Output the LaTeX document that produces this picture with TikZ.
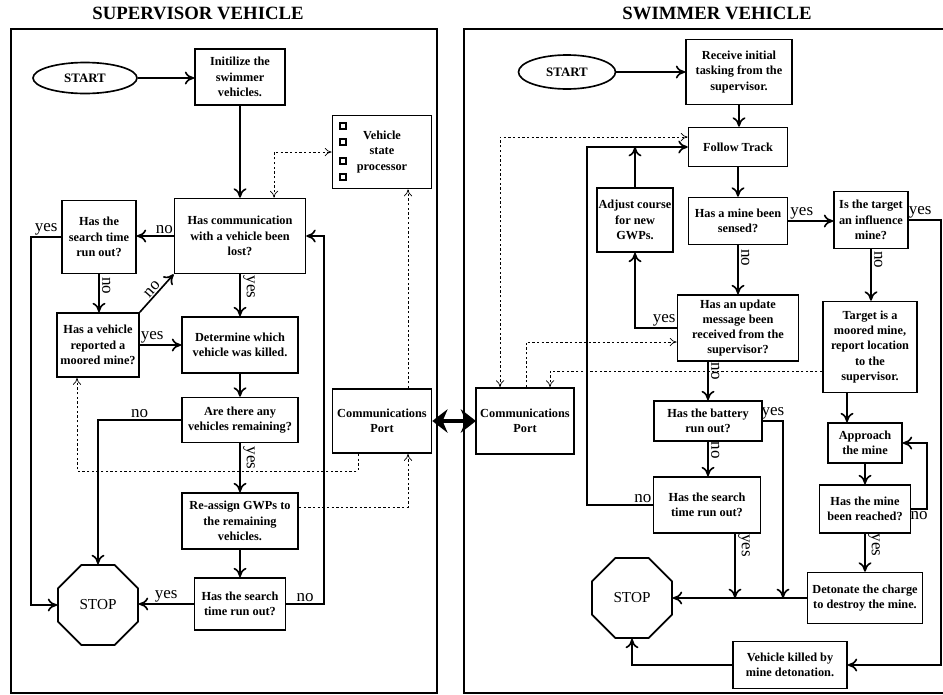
\documentclass[tikz,border=0pt]{standalone}
\usepackage{fontspec}
\setmainfont{Liberation Serif}
\usetikzlibrary{arrows.meta,shapes.geometric}

\tikzset{
  box/.style={draw, line width=1.4pt, align=center, inner sep=1pt,
    font=\bfseries\fontsize{10.5}{13}\selectfont},
  term/.style={draw, ellipse, line width=1.4pt, inner sep=0pt,
    font=\bfseries\fontsize{11}{13}\selectfont},
  stopsign/.style={draw, regular polygon, regular polygon sides=8, line width=1.4pt,
    minimum size=2.6cm, inner sep=0pt, font=\fontsize{13}{13}\selectfont},
  flow/.style={line width=1.4pt, >={Computer Modern Rightarrow[length=8pt,width=11pt]}, ->},
  msg/.style={line width=0.6pt, dash pattern=on 2pt off 2pt,
    >={Computer Modern Rightarrow[length=6pt,width=7pt]}, ->},
  link/.style={line width=3pt, {Stealth[length=13pt,width=20pt]}-{Stealth[length=13pt,width=20pt]}},
  lbl/.style={font=\fontsize{14.5}{14}\selectfont, inner sep=1pt},
  rot/.style={lbl, rotate=-90, anchor=south, inner sep=2pt},
  ttl/.style={font=\bfseries\fontsize{16}{18}\selectfont},
}

\begin{document}
\begin{tikzpicture}[x=0.03cm, y=-0.03cm]
\useasboundingbox (0,0) rectangle (943,695);

%frames
\node[ttl] (tsup) at (198,13) {SUPERVISOR VEHICLE};
\node[ttl] (tswim) at (717,13) {SWIMMER VEHICLE};
\draw[line width=1.4pt] (11,29) rectangle (437,693);
\draw[line width=1.4pt] (464,29) rectangle (948,693);

%supervisor
\node[term, minimum width=3.12cm, minimum height=0.93cm] (sstart) at (85,78) {START};
\node[box, minimum width=2.7cm, minimum height=1.68cm] (sinit) at (240,77) {Initilize the\\swimmer\\vehicles.};
\node[box, minimum width=2.97cm, minimum height=2.19cm] (vsp) at (382,152) {Vehicle\\state\\processor};
\foreach \yy in {126,142,161,177}
  \draw[line width=1pt] (340,\yy-3) rectangle (346,\yy+3);
\node[box, minimum width=3.93cm, minimum height=2.25cm] (scomm) at (240,236) {Has communication\\with a vehicle been\\lost?};
\node[box, minimum width=2.22cm, minimum height=2.19cm] (ssrch) at (99,237) {Has the\\search time\\run out?};
\node[box, minimum width=2.46cm, minimum height=1.92cm] (smoored) at (98,345) {Has a vehicle\\reported a\\moored mine?};
\node[box, minimum width=3.48cm, minimum height=1.68cm] (sdet) at (240,345) {Determine which\\vehicle was killed.};
\node[box, minimum width=3.48cm, minimum height=1.35cm] (sare) at (240,420) {Are there any\\vehicles remaining?};
\node[box, minimum width=2.97cm, minimum height=1.92cm] (scport) at (382,421) {Communications\\Port};
\node[box, minimum width=3.48cm, minimum height=1.68cm] (sreas) at (240,521) {Re-assign GWPs to\\the remaining\\vehicles.};
\node[box, minimum width=2.73cm, minimum height=1.56cm] (ssrch2) at (240,604) {Has the search\\time run out?};
\node[stopsign] (sstop) at (98,605) {STOP};

\coordinate (sleft) at (31,0);
\coordinate (sright) at (324,0);
\coordinate (pa) at (274,153);
\coordinate (pb) at (408,507);
\coordinate (pc) at (358,471);
\coordinate (pd) at (77,471);

\draw[flow] (sstart.east) -- (sstart.east -| sinit.west);
\draw[flow] (sinit) -- (scomm);
\draw[flow] (scomm.west) -- node[lbl, above, pos=0.25]{no} (scomm.west -| ssrch.east);
\draw[flow] (ssrch.west) -- node[lbl, above]{yes} (ssrch.west -| sleft) |- (sstop.west);
\draw[flow] (ssrch.south) -- node[rot, pos=0.3]{no} (ssrch.south |- smoored.north);
\draw[flow] (smoored.north east) -- node[lbl, sloped, above, pos=0.5]{no} (scomm.south west);
\draw[flow] (smoored.east) -- node[lbl, above, pos=0.3]{yes} (smoored.east -| sdet.west);
\draw[flow] (scomm) -- node[rot, pos=0.3]{yes} (sdet);
\draw[flow] (sdet) -- (sare);
\draw[flow] (sare.west) -| node[lbl, above, pos=0.25]{no} (sstop.north);
\draw[flow] (sare) -- node[rot, pos=0.3]{yes} (sreas);
\draw[flow] (sreas) -- (ssrch2);
\draw[flow] (ssrch2.west) -- node[lbl, above]{yes} (ssrch2.west -| sstop.east);
\draw[flow] (ssrch2.east) -- node[lbl, above]{no} (ssrch2.east -| sright) |- (scomm.east);

%messages
\draw[msg, <->] (scomm.north -| pa) |- (vsp.west);
\draw[msg] (scport.north -| pb) -- (vsp.south -| pb);
\draw[msg] (sreas.east |- pb) -| (scport.south -| pb);
\draw[msg] (scport.south -| pc) -- (pc) -- (pd) -- (smoored.south -| pd);

\draw[link] (scport.east) -- (scport.east -| 476,0);

%swimmer
\node[term, minimum width=2.91cm, minimum height=1.02cm] (wstart) at (567,72) {START};
\node[box, minimum width=3.18cm, minimum height=1.95cm] (wrecv) at (739,72) {Receive initial\\tasking from the\\supervisor.};
\node[box, minimum width=2.97cm, minimum height=1.17cm] (wfollow) at (738,147) {Follow Track};
\node[box, minimum width=2.28cm, minimum height=1.92cm] (wadjust) at (635,220) {Adjust course\\for new\\GWPs.};
\node[box, minimum width=2.97cm, minimum height=1.41cm] (wsensed) at (738,221) {Has a mine been\\sensed?};
\node[box, minimum width=2.22cm, minimum height=1.71cm] (winfl) at (871,220) {Is the target\\an influence\\mine?};
\node[box, minimum width=3.63cm, minimum height=1.98cm] (wupdate) at (738,328) {Has an update\\message been\\received from the\\supervisor?};
\node[box, minimum width=2.82cm, minimum height=2.73cm] (wmoored) at (870,347) {Target is a\\moored mine,\\report location\\to the\\supervisor.};
\node[box, minimum width=2.94cm, minimum height=1.98cm] (wcport) at (525,421) {Communications\\Port};
\node[box, minimum width=3.24cm, minimum height=1.2cm] (wbattery) at (708,421) {Has the battery\\run out?};
\node[box, minimum width=2.22cm, minimum height=1.2cm] (wapproach) at (865,443) {Approach\\the mine};
\node[box, minimum width=3.21cm, minimum height=1.68cm] (wsearch) at (707,505) {Has the search\\time run out?};
\node[box, minimum width=2.73cm, minimum height=1.44cm] (wreached) at (865,509) {Has the mine\\been reached?};
\node[stopsign] (wstop) at (632,598) {STOP};
\node[box, minimum width=3.45cm, minimum height=1.53cm] (wdet) at (865,598) {Detonate the charge\\to destroy the mine.};
\node[box, minimum width=3.42cm, minimum height=1.41cm] (wkilled) at (790,665) {Vehicle killed by\\mine detonation.};

\coordinate (wedge) at (941,0);
\coordinate (wback) at (587,0);
\coordinate (wbat) at (783,0);
\coordinate (wsr) at (735,0);
\coordinate (wap) at (847,0);
\coordinate (wloop) at (927,0);
\coordinate (qa) at (500,137);
\coordinate (qb) at (526,342);
\coordinate (qc) at (550,371);

\draw[flow] (wstart.east) -- (wstart.east -| wrecv.west);
\draw[flow] (wrecv.south) -- (wrecv.south |- wfollow.north);
\draw[flow] (wfollow) -- (wsensed);
\draw[flow] (wsensed.east) -- node[lbl, above, pos=0.3]{yes} (wsensed.east -| winfl.west);
\draw[flow] (winfl.east) -- node[lbl, above, pos=0.35]{yes} (winfl.east -| wedge) |- (wkilled.east);
\draw[flow] (winfl.south) -- node[rot, pos=0.2]{no} (winfl.south |- wmoored.north);
\draw[flow] (wsensed) -- node[rot, pos=0.25]{no} (wupdate);
\draw[flow] (wupdate.west) -| node[lbl, above, pos=0.15]{yes} (wadjust.south);
\draw[flow] (wadjust.north) -- (wadjust.north |- wfollow.west);
\draw[flow] (wsearch.west) -- node[lbl, above, pos=0.15]{no} (wsearch.west -| wback) |- (wfollow.west);
\draw[flow] (wupdate.south -| wbattery.north) -- node[rot, pos=0.25]{no} (wbattery.north);
\draw[flow] (wbattery.south) -- node[rot, pos=0.25]{no} (wbattery.south |- wsearch.north);
\draw[flow] (wbattery.east) -- node[lbl, above]{yes} (wbattery.east -| wbat) -- (wbat |- wdet.west);
\draw[flow] (wsearch.south -| wsr) -- node[rot, pos=0.18]{yes} (wsr |- wdet.west);
\draw[flow] (wdet.west) -- (wdet.west -| wstop.east);
\draw[flow] (wmoored.south -| wap) -- (wapproach.north -| wap);
\draw[flow] (wapproach.south) -- (wapproach.south |- wreached.north);
\draw[flow] (wreached.east) -- node[lbl, below]{no} (wreached.east -| wloop) |- (wapproach.east);
\draw[flow] (wreached.south) -- node[rot, pos=0.3]{yes} (wreached.south |- wdet.north);
\draw[flow] (wkilled.west) -| (wstop.south);

%messages
\draw[msg, <->] (wcport.north -| qa) |- (wfollow.west |- qa);
\draw[msg] (wcport.north -| qb) |- (wupdate.west |- qb);
\draw[msg] (wmoored.west |- qc) -| (wcport.north -| qc);
\end{tikzpicture}
\end{document}
